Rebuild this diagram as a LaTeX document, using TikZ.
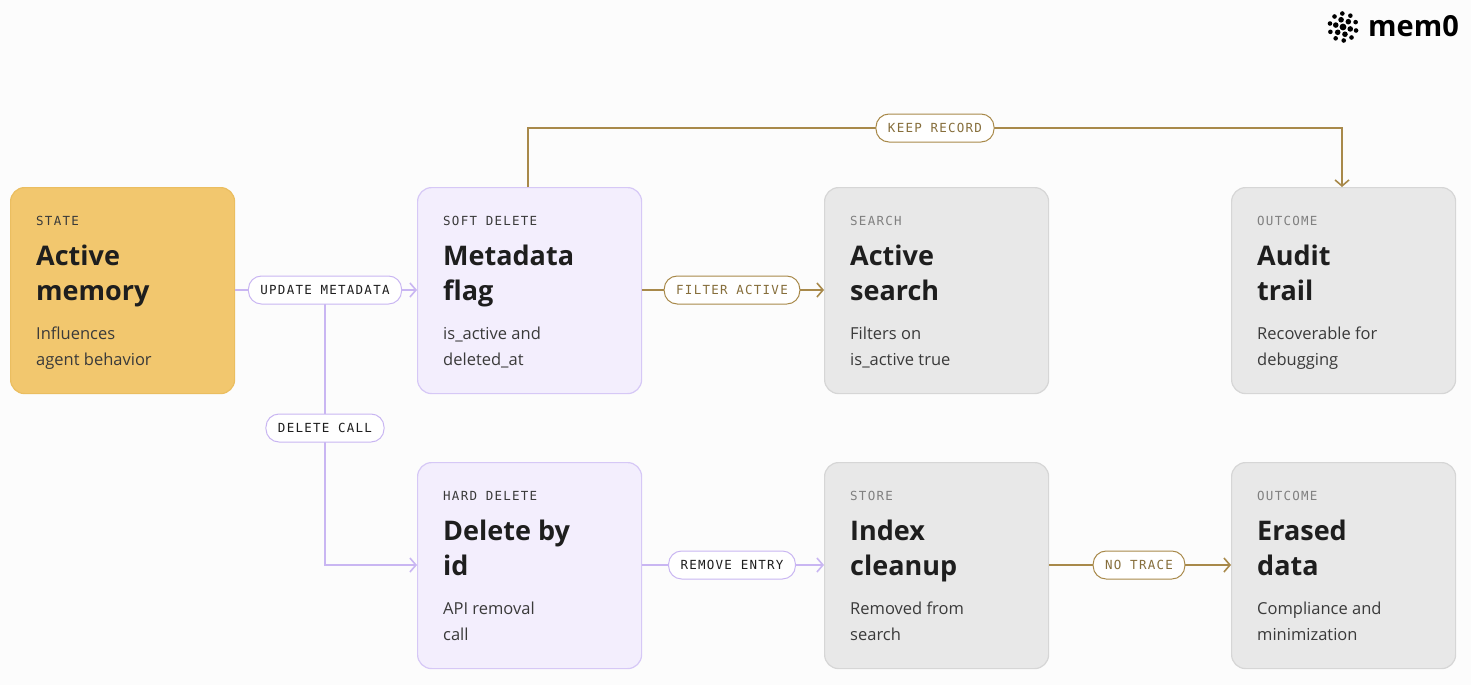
\documentclass[tikz,border=0pt]{standalone}
\usepackage{fontspec}
\setmainfont{Open Sans}
\newfontfamily\monof[LetterSpace=10]{DejaVu Sans Mono}
\usetikzlibrary{arrows.meta,calc}
\definecolor{stf}{HTML}{F2C76E}\definecolor{stb}{HTML}{EBBE60}
\definecolor{puf}{HTML}{F3EEFD}\definecolor{pub}{HTML}{D6C8F6}
\definecolor{grf}{HTML}{E8E8E8}\definecolor{grb}{HTML}{D6D6D6}
\definecolor{pline}{HTML}{C9B6F2}\definecolor{gline}{HTML}{A8894A}
\definecolor{ink}{HTML}{1E1E1E}\definecolor{sub}{HTML}{3A3A3A}
\begin{document}
\begin{tikzpicture}[x=1pt,y=-1pt,
 box/.style={draw,line width=1.2pt,rounded corners=14pt,minimum width=224pt,minimum height=206pt,anchor=north west,inner sep=0},
 st/.style={box,fill=stf,draw=stb},
 pu/.style={box,fill=puf,draw=pub},
 gr/.style={box,fill=grf,draw=grb},
 kind/.style={anchor=west,font=\monof\fontsize{12.5}{14}\selectfont,text=#1},
 ttl/.style={anchor=north west,align=left,font=\fontsize{27}{35}\selectfont\bfseries,text=ink,inner sep=0},
 dsc/.style={anchor=north west,align=left,font=\fontsize{16.5}{25.5}\selectfont,text=sub,inner sep=0},
 pl/.style={draw=pline,line width=1.6pt},
 gl/.style={draw=gline,line width=1.6pt},
 arr/.style={-{Straight Barb[length=6pt,width=14pt,line width=1.6pt]}},
 pill/.style={fill=white,draw=#1,line width=1pt,rounded corners=13pt,minimum height=28pt,inner xsep=12pt,inner ysep=2pt,font=\monof\fontsize{12.5}{14}\selectfont,text=ink}
]
\fill[white!98!gray] (0,0) rectangle (1471,685);
\useasboundingbox (0,0) rectangle (1471,685);
% boxes
\node[st] (state) at (10,187) {};
\node[pu] (soft) at (417,187) {};
\node[gr] (search) at (824,187) {};
\node[gr] (audit) at (1231,187) {};
\node[pu] (hard) at (417,462) {};
\node[gr] (index) at (824,462) {};
\node[gr] (erased) at (1231,462) {};
% texts
\def\boxtext#1#2#3#4#5{%
 \node[kind=#5,inner sep=0] (#1-k) at ([shift={(26,34)}]#1.north west) {#2};
 \node[ttl] (#1-t) at ([shift={(26,58)}]#1.north west) {#3};
 \node[dsc] (#1-d) at ([shift={(26,140)}]#1.north west) {#4};}
\boxtext{state}{STATE}{Active\\memory}{Influences\\agent behavior}{sub}
\boxtext{soft}{SOFT DELETE}{Metadata\\flag}{is\_active and\\deleted\_at}{sub}
\boxtext{search}{SEARCH}{Active\\search}{Filters on\\is\_active true}{gray}
\boxtext{audit}{OUTCOME}{Audit\\trail}{Recoverable for\\debugging}{gray}
\boxtext{hard}{HARD DELETE}{Delete by\\id}{API removal\\call}{sub}
\boxtext{index}{STORE}{Index\\cleanup}{Removed from\\search}{gray}
\boxtext{erased}{OUTCOME}{Erased\\data}{Compliance and\\minimization}{gray}
% connectors
\coordinate (j1) at (325,290);
\coordinate (j2) at (325,565);
\coordinate (k1) at (528,128);
\coordinate (k2) at (1342,128);
\draw[pl,arr] (state.east |- j1) -- (soft.west |- j1);
\draw[pl,arr] (j1) -- (j2) -- (hard.west |- j2);
\draw[gl,arr] (soft.east |- j1) -- (search.west |- j1);
\draw[gl,arr] (soft.north -| k1) -- (k1) -- (k2) -- (audit.north -| k2);
\draw[pl,arr] (hard.east |- j2) -- (index.west |- j2);
\draw[gl,arr] (index.east |- j2) -- (erased.west |- j2);
\node[pill=pline] (p1) at (325,290) {UPDATE METADATA};
\node[pill=pline] (p2) at (325,428) {DELETE CALL};
\node[pill=gline,text=gline!80!black] (p3) at (732,290) {FILTER ACTIVE};
\node[pill=gline,text=gline!80!black] (p4) at (935,128) {KEEP RECORD};
\node[pill=pline] (p5) at (732,565) {REMOVE ENTRY};
\node[pill=gline,text=gline!80!black] (p6) at (1139,565) {NO TRACE};
% logo
\foreach \r/\n/\s in {0/1/3.4,7.5/6/2.8,13.5/10/2.3}{
 \foreach \i in {1,...,\n}{\fill[black] ($(1343,27)+(\i*360/\n+15:\r)$) circle (\s);}}
\node[anchor=west,font=\fontsize{29}{30}\selectfont\bfseries,text=black,inner sep=0] (logo) at (1368,26) {mem0};
\end{tikzpicture}
\end{document}
